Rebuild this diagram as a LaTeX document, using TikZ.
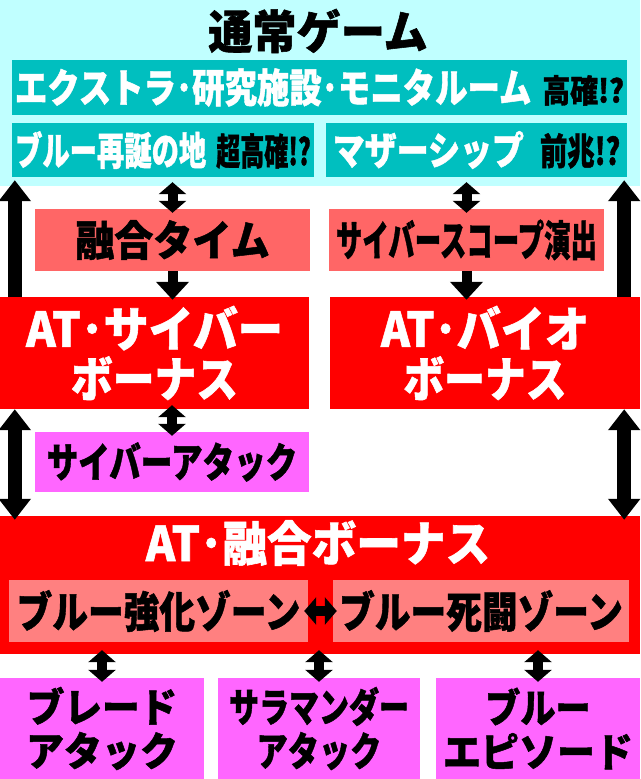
\documentclass[tikz,border=0pt]{standalone}
\usepackage{fontspec}
\usepackage{graphicx}
\usetikzlibrary{arrows.meta}
\newfontfamily\jp{Noto Sans CJK JP}[BoldFeatures={FakeBold=1.2}]
\newcommand{\sx}[2]{\scalebox{#1}[1]{#2}}
\newcommand{\fs}[2]{\fontsize{#1pt}{#2pt}\selectfont}
\definecolor{normalbg}{RGB}{192,255,255}
\definecolor{chancebg}{RGB}{0,191,191}
\definecolor{eventbg}{RGB}{255,102,102}
\definecolor{zonebg}{RGB}{255,128,128}
\definecolor{bonusbg}{RGB}{255,0,0}
\definecolor{attackbg}{RGB}{255,102,255}
\tikzset{
  stip/.tip={Triangle[width=27pt,length=12pt]},
  dtip/.tip={Triangle[width=32pt,length=18pt]},
  btip/.tip={Triangle[width=31pt,length=21pt]},
}
\begin{document}
\begin{tikzpicture}[x=1pt, y=-1pt,
  box/.style={rectangle, inner sep=0pt, align=center, font=\jp\bfseries},
  chance/.style={box, fill=chancebg, text=white, minimum height=55pt},
  event/.style={box, fill=eventbg, minimum width=275pt, minimum height=62pt},
  bonus/.style={box, fill=bonusbg, text=white},
  zone/.style={box, fill=zonebg, minimum height=62pt},
  attack/.style={box, fill=attackbg},
  dbl/.style={line width=10pt, stip-stip, shorten <=-4pt, shorten >=-4pt},
  down/.style={line width=10pt, -dtip, shorten >=-3pt},
  bigup/.style={line width=14pt, -btip, shorten >=-6pt},
  bigdbl/.style={line width=14pt, btip-btip, shorten >=-4pt},
]
\useasboundingbox (0,0) rectangle (640,779);

% normal game
\node[box, fill=normalbg, minimum width=640pt, minimum height=186pt] (normal) at (320,93) {};
\node[box, font=\jp\bfseries\fs{46}{46}] (title) at (318,31) {\sx{0.96}{通常ゲーム}};
\node[chance, minimum width=615pt] (extra) at (319.5,87.5)
  {\fs{40}{40}\sx{0.81}{エクストラ･研究施設･モニタルーム}\hspace{11pt}{\color{black}\fs{32}{32}\sx{0.87}{高確!?}}};
\node[chance, minimum width=302pt, minimum height=54pt] (reborn) at (163,150)
  {\fs{39}{39}\sx{0.7}{ブルー再誕の地}\hspace{10pt}{\color{black}\fs{37}{37}\sx{0.65}{超高確!?}}};
\node[chance, minimum width=301pt, minimum height=54pt] (mother) at (476.5,150)
  {\fs{39}{39}\sx{0.82}{マザーシップ}\hspace{16pt}{\color{black}\fs{37}{37}\sx{0.74}{前兆!?}}};

% events
\node[event, font=\jp\bfseries\fs{42}{42}] (fusiontime) at (172.5,240) {\sx{0.93}{融合タイム}};
\node[event, font=\jp\bfseries\fs{42}{42}] (scope) at (466.5,240) {\sx{0.63}{サイバースコープ演出}};

% bonuses
\node[bonus, minimum width=309pt, minimum height=112pt, font=\jp\bfseries\fs{48}{50}] (cyber) at (154.5,353)
  {\sx{0.94}{AT･サイバー}\\\sx{0.87}{ボーナス}};
\node[bonus, minimum width=310pt, minimum height=112pt, font=\jp\bfseries\fs{48}{50}] (bio) at (485,353)
  {\sx{0.92}{AT･バイオ}\\\sx{0.85}{ボーナス}};
\node[attack, minimum width=274pt, minimum height=60pt, font=\jp\bfseries\fs{41}{41}] (cyberatk) at (172,462)
  {\sx{0.77}{サイバーアタック}};

% fusion bonus
\node[bonus, minimum width=640pt, minimum height=138pt] (fusionbonus) at (320,585) {};
\node[box, text=white, font=\jp\bfseries\fs{48}{48}] (fbtitle) at (318,543) {\sx{0.93}{AT･融合ボーナス}};
\node[zone, minimum width=299pt, font=\jp\bfseries\fs{43}{43}] (strong) at (158.5,611) {\sx{0.83}{ブルー強化ゾーン}};
\node[zone, minimum width=296pt, font=\jp\bfseries\fs{43}{43}] (death) at (481,611) {\sx{0.83}{ブルー死闘ゾーン}};

% attacks
\node[attack, minimum width=204pt, minimum height=101pt, font=\jp\bfseries\fs{40}{44}] (blade) at (102,728.5)
  {\sx{0.94}{ブレード}\\\sx{0.95}{アタック}};
\node[attack, minimum width=202pt, minimum height=101pt, font=\jp\bfseries\fs{40}{44}] (salamander) at (319,728.5)
  {\sx{0.75}{サラマンダー}\\\sx{0.78}{アタック}};
\node[attack, minimum width=204pt, minimum height=101pt, font=\jp\bfseries\fs{40}{44}] (episode) at (538,728.5)
  {\sx{0.88}{ブルー}\\\sx{0.95}{エピソード}};

% arrows
\draw[bigup] ([xshift=15pt]cyber.north west) -- ([xshift=15pt]cyber.north west |- normal.south);
\draw[bigup] ([xshift=-16pt]bio.north east) -- ([xshift=-16pt]bio.north east |- normal.south);
\draw[bigdbl] ([xshift=15pt]cyber.south west) -- ([xshift=15pt]cyber.south west |- fusionbonus.north);
\draw[bigdbl] ([xshift=-16pt]bio.south east) -- ([xshift=-16pt]bio.south east |- fusionbonus.north);
\draw[dbl] (fusiontime.north |- normal.south) -- (fusiontime.north);
\draw[dbl] (scope.north |- normal.south) -- (scope.north);
\draw[down] (fusiontime.south) -- (fusiontime.south |- cyber.north);
\draw[down] (scope.south) -- (scope.south |- bio.north);
\draw[dbl] (cyberatk.north |- cyber.south) -- (cyberatk.north);
\draw[dbl] (strong.east) -- (death.west);
\draw[dbl] (blade.north |- fusionbonus.south) -- (blade.north);
\draw[dbl] (salamander.north |- fusionbonus.south) -- (salamander.north);
\draw[dbl] (episode.north |- fusionbonus.south) -- (episode.north);
\end{tikzpicture}
\end{document}
